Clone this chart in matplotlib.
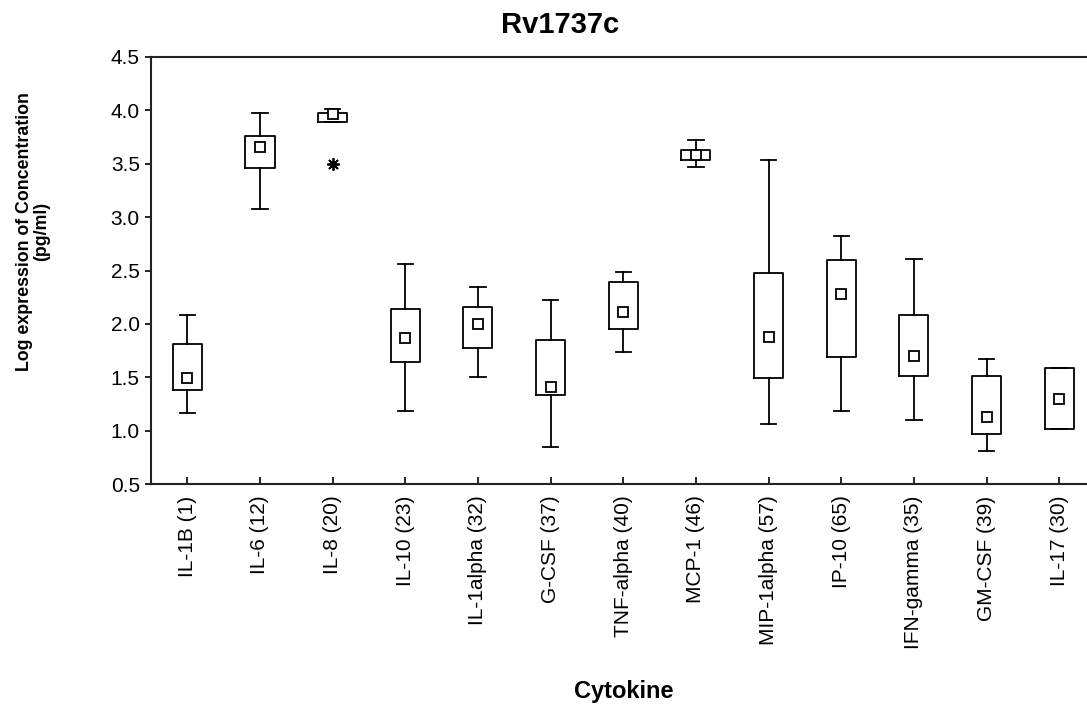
import matplotlib
matplotlib.use("Agg")
import matplotlib.pyplot as plt

plt.rcParams["font.family"] = ["Liberation Sans", "DejaVu Sans"]

# Box statistics (log concentration)
labels = ["IL-1B (1)", "IL-6 (12)", "IL-8 (20)", "IL-10 (23)", "IL-1alpha (32)",
          "G-CSF (37)", "TNF-alpha (40)", "MCP-1 (46)", "MIP-1alpha (57)",
          "IP-10 (65)", "IFN-gamma (35)", "GM-CSF (39)", "IL-17 (30)"]
medians = [1.49, 3.66, 3.96, 1.87, 2.00, 1.41, 2.11, 3.58, 1.88, 2.28, 1.70, 1.13, 1.30]
q1 = [1.385, 3.457, 3.893, 1.647, 1.771, 1.332, 1.953, 3.536, 1.494, 1.688, 1.51, 0.971, 1.017]
q3 = [1.815, 3.762, 3.977, 2.136, 2.158, 1.847, 2.395, 3.630, 2.479, 2.598, 2.081, 1.513, 1.591]
whisk_lo = [1.167, 3.08, 3.893, 1.182, 1.507, 0.849, 1.735, 3.468, 1.064, 1.189, 1.101, 0.814, 1.017]
whisk_hi = [2.083, 3.977, 4.011, 2.563, 2.345, 2.224, 2.489, 3.721, 3.536, 2.826, 2.608, 1.675, 1.591]
outliers = {"IL-8 (20)": [3.497]}

stats = []
for i, lab in enumerate(labels):
    stats.append({
        "label": lab,
        "med": medians[i],
        "q1": q1[i],
        "q3": q3[i],
        "whislo": whisk_lo[i],
        "whishi": whisk_hi[i],
        "fliers": outliers.get(lab, []),
    })

positions = list(range(1, len(labels) + 1))

fig = plt.figure(figsize=(10.87, 7.09), dpi=100)
ax = fig.add_axes([0.1389, 0.3169, 0.869, 0.6031])

lw = 1.3
ax.bxp(stats, positions=positions, widths=0.40, showfliers=True,
       boxprops=dict(color="black", linewidth=lw),
       whiskerprops=dict(color="black", linewidth=lw),
       capprops=dict(color="black", linewidth=lw),
       medianprops=dict(linewidth=0),
       capwidths=0.21,
       flierprops=dict(marker=(8, 2, 0), markersize=9, markeredgecolor="black",
                       markeredgewidth=1.3, linestyle="none"))

ax.plot(positions, medians, linestyle="none", marker="s", markersize=7.5,
        markerfacecolor="white", markeredgecolor="black", markeredgewidth=1.3,
        zorder=5)

ax.set_xlim(0.5, 13.5)
ax.set_ylim(0.5, 4.5)
ax.set_yticks([0.5, 1.0, 1.5, 2.0, 2.5, 3.0, 3.5, 4.0, 4.5])
ax.set_yticklabels([f"{v:.1f}" for v in ax.get_yticks()])
ax.set_xticks(positions)
ax.set_xticklabels(labels, rotation=90)

ax.tick_params(axis="y", direction="out", length=4, width=1.2, labelsize=15, pad=4)
ax.tick_params(axis="x", direction="in", length=5, width=1.2, labelsize=15, pad=8)

for side in ["left", "bottom", "top"]:
    ax.spines[side].set_linewidth(1.5)
    ax.spines[side].set_color("#222222")
ax.spines["right"].set_visible(False)

ax.set_xlabel("Cytokine", fontsize=17, fontweight="bold")
ax.xaxis.set_label_coords(0.5, -0.458)
ax.set_ylabel("Log expression of Concentration\n(pg/ml)", fontsize=12.8,
              fontweight="bold", linespacing=1.0)
ax.yaxis.set_label_coords(-0.107, 0.592)

fig.text(0.515, 0.965, "Rv1737c", fontsize=21, fontweight="bold",
         ha="center", va="center")

fig.savefig("out.png", dpi=100)
